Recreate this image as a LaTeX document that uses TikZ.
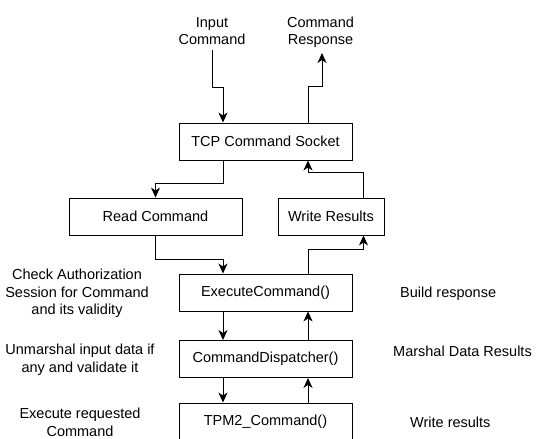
\documentclass[tikz,border=0pt]{standalone}
\usepackage{fontspec}
\setmainfont{Liberation Sans}
\usetikzlibrary{arrows.meta}

\begin{document}
\begin{tikzpicture}[x=1pt, y=-1pt, font=\fontsize{14.5}{17.5}\selectfont, line join=miter,
  blk/.style={draw, line width=0.9pt, minimum width=173pt, minimum height=37pt, inner sep=0pt},
  note/.style={align=center, inner sep=0pt},
  flow/.style={line width=0.9pt, -{Stealth[length=10pt,width=9pt,inset=3pt]}}]
  \useasboundingbox (0,0) rectangle (536,439);
  \clip (0,0) rectangle (536,439);

  % boxes
  \node[blk] (tcp) at (265.5,141.5) {TCP Command Socket};
  \node[blk] (read) at (155.5,216.5) {Read Command};
  \node[blk, minimum width=106pt] (wres) at (331,216.5) {Write Results};
  \node[blk] (exec) at (265.5,292.5) {ExecuteCommand()};
  \node[blk] (disp) at (265.5,359) {CommandDispatcher()};
  \node[blk] (tpm) at (265.5,421.5) {TPM2\_Command()};

  % outside texts
  \node[note] (inp) at (212,31) {Input\\Command};
  \node[note] (resp) at (320.5,32.5) {Command\\Response};
  \coordinate (inpend) at (212,50);
  \coordinate (respend) at (322,53);

  \node[note] (chk) at (77,293.5) {Check Authorization\\Session for Command\\and its validity};
  \node[note] (unm) at (80,359.5) {Unmarshal input data if\\any and validate it};
  \node[note] (exq) at (80,422.5) {Execute requested\\Command};
  \node[note, anchor=west] (bld) at (400,293.5) {Build response};
  \node[note, anchor=west] (msh) at (393,351) {Marshal Data Results};
  \node[note, anchor=west] (wrt) at (410,422.5) {Write results};

  % connectors
  \draw[flow] (inpend) -- ++(0,37) -| ([xshift=-42.5pt]tcp.north);
  \draw[flow] ([xshift=42.5pt]tcp.north) -- ++(0,-36) -| (respend);
  \draw[flow] ([xshift=-42.5pt]tcp.south) -- ++(0,23) -| (read.north);
  \draw[flow] ([xshift=32.5pt]wres.north) -- ++(0,-25) -| ([xshift=42.5pt]tcp.south);
  \draw[flow] (read.south) -- ++(0,24) -| ([xshift=-42.5pt]exec.north);
  \draw[flow] ([xshift=42.5pt]exec.north) -- ++(0,-24) -| ([xshift=32.5pt]wres.south);
  \draw[flow] ([xshift=-42.5pt]exec.south) -- ([xshift=-42.5pt]disp.north);
  \draw[flow] ([xshift=42.5pt]disp.north) -- ([xshift=42.5pt]exec.south);
  \draw[flow] ([xshift=-42.5pt]disp.south) -- ([xshift=-42.5pt]tpm.north);
  \draw[flow] ([xshift=42.5pt]tpm.north) -- ([xshift=42.5pt]disp.south);
\end{tikzpicture}
\end{document}
